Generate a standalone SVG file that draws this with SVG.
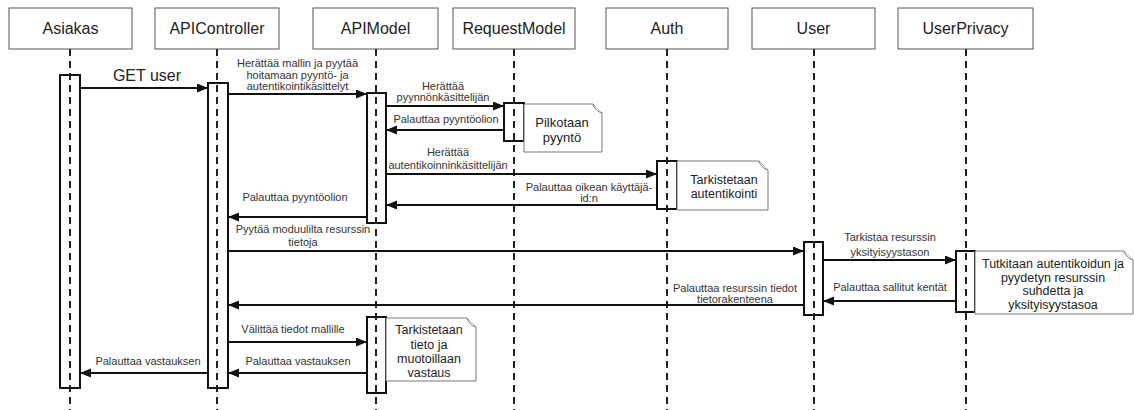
<svg xmlns="http://www.w3.org/2000/svg" width="1134" height="410" viewBox="0 0 1134 410">
<style>
.hd{fill:#fff;stroke:#555;stroke-width:1}
.ht{font-family:"Liberation Sans",Arial,sans-serif;font-size:16px;fill:#222;text-anchor:middle}
.ll{stroke:#222;stroke-width:2;stroke-dasharray:7 5;fill:none}
.act{fill:#fff;stroke:#111;stroke-width:2}
.note{fill:#fff;stroke:#777;stroke-width:1}
.nt{font-family:"Liberation Sans",Arial,sans-serif;font-size:12.5px;fill:#222;text-anchor:middle}
.nt13{font-size:13px}
.msg{stroke:#111;stroke-width:2;fill:none;marker-end:url(#arr)}
.mt{font-family:"Liberation Sans",Arial,sans-serif;font-size:11px;fill:#333;text-anchor:middle}
.big{font-size:16px;fill:#222}
</style>
<defs>
<marker id="arr" markerUnits="userSpaceOnUse" markerWidth="12" markerHeight="10" refX="11" refY="4.5" orient="auto">
<path d="M0,0 L11,4.5 L0,9 Z" fill="#111"/>
</marker>
</defs>
<rect width="1134" height="410" fill="#fff"/>

<g id="asiakas">
<rect class="hd" x="9" y="8" width="123" height="41"/>
<text class="ht" x="70.5" y="34">Asiakas</text>
<rect class="act" x="60" y="75" width="20" height="313"/>
<line class="ll" x1="70" y1="49" x2="70" y2="410"/>
</g>
<g id="apicontroller">
<rect class="hd" x="155" y="8" width="124" height="41"/>
<text class="ht" x="217" y="34">APIController</text>
<rect class="act" x="208" y="83" width="20" height="305"/>
<line class="ll" x1="217" y1="49" x2="217" y2="410"/>
</g>
<g id="apimodel">
<rect class="hd" x="313" y="8" width="125" height="41"/>
<text class="ht" x="375.5" y="34">APIModel</text>
<rect class="act" x="367" y="93" width="19" height="130"/>
<rect class="act" x="367" y="317" width="19" height="76"/>
<line class="ll" x1="376" y1="49" x2="376" y2="410"/>
</g>
<g id="requestmodel">
<rect class="hd" x="453" y="8" width="122" height="41"/>
<text class="ht" x="514" y="34">RequestModel</text>
<rect class="act" x="504" y="103" width="20" height="38"/>
<line class="ll" x1="514" y1="49" x2="514" y2="410"/>
</g>
<g id="auth">
<rect class="hd" x="606" y="8" width="122" height="41"/>
<text class="ht" x="667" y="34">Auth</text>
<rect class="act" x="657" y="161" width="20" height="48"/>
<line class="ll" x1="667" y1="49" x2="667" y2="410"/>
</g>
<g id="user">
<rect class="hd" x="752" y="8" width="123" height="41"/>
<text class="ht" x="813.5" y="34">User</text>
<rect class="act" x="804" y="242" width="19" height="73"/>
<line class="ll" x1="814" y1="49" x2="814" y2="410"/>
</g>
<g id="userprivacy">
<rect class="hd" x="898" y="8" width="135" height="41"/>
<text class="ht" x="965.5" y="34">UserPrivacy</text>
<rect class="act" x="956" y="251" width="19" height="61"/>
<line class="ll" x1="966" y1="49" x2="966" y2="410"/>
</g>

<g id="note-pilkotaan">
<path class="note" d="M524,104 H593 L602,113 V152 H524 Z"/>
<path class="note" d="M593,104 Q595,111 602,113" fill="none"/>
<text class="nt nt13" x="562" y="127">Pilkotaan</text>
<text class="nt nt13" x="562" y="142">pyyntö</text>
</g>
<g id="note-auth">
<path class="note" d="M677,161 H759 L768,170 V210 H677 Z"/>
<path class="note" d="M759,161 Q761,168 768,170" fill="none"/>
<text class="nt" x="724" y="183.5">Tarkistetaan</text>
<text class="nt" x="724" y="197.5">autentikointi</text>
</g>
<g id="note-privacy">
<path class="note" d="M975,251 H1124 L1133,260 V314 H975 Z"/>
<path class="note" d="M1124,251 Q1126,258 1133,260" fill="none"/>
<text class="nt" x="1053" y="267.5">Tutkitaan autentikoidun ja</text>
<text class="nt" x="1053" y="281.5">pyydetyn resurssin</text>
<text class="nt" x="1053" y="295">suhdetta ja</text>
<text class="nt" x="1053" y="309">yksityisyystasoa</text>
</g>
<g id="note-vastaus">
<path class="note" d="M386,318 H467 L476,327 V381 H386 Z"/>
<path class="note" d="M467,318 Q469,325 476,327" fill="none"/>
<text class="nt" x="429" y="333.5">Tarkistetaan</text>
<text class="nt" x="429" y="348.5">tieto ja</text>
<text class="nt" x="429" y="362.5">muotoillaan</text>
<text class="nt" x="429" y="376.5">vastaus</text>
</g>

<g id="connectors">
<line class="msg" x1="80" y1="88" x2="208" y2="88"/>
<text class="mt big" x="147" y="81">GET user</text>

<line class="msg" x1="228" y1="94" x2="367" y2="94"/>
<text class="mt" x="297.5" y="67">Herättää mallin ja pyytää</text>
<text class="mt" x="297.5" y="79">hoitamaan pyyntö- ja</text>
<text class="mt" x="297.5" y="90">autentikointikäsittelyt</text>

<line class="msg" x1="386" y1="106" x2="504" y2="106"/>
<text class="mt" x="443" y="90">Herättää</text>
<text class="mt" x="443" y="101">pyynnönkäsittelijän</text>

<line class="msg" x1="504" y1="130" x2="386" y2="130"/>
<text class="mt" x="446" y="123">Palauttaa pyyntöolion</text>

<line class="msg" x1="386" y1="174" x2="657" y2="174"/>
<text class="mt" x="448" y="156">Herättää</text>
<text class="mt" x="448" y="169">autentikoinninkäsittelijän</text>

<line class="msg" x1="657" y1="205" x2="386" y2="205"/>
<text class="mt" x="589" y="191">Palauttaa oikean käyttäjä-</text>
<text class="mt" x="589" y="202">id:n</text>

<line class="msg" x1="367" y1="217" x2="228" y2="217"/>
<text class="mt" x="295" y="201">Palauttaa pyyntöolion</text>

<line class="msg" x1="228" y1="251" x2="804" y2="251"/>
<text class="mt" x="303" y="233">Pyytää moduulilta resurssin</text>
<text class="mt" x="303" y="246">tietoja</text>

<line class="msg" x1="823" y1="260" x2="956" y2="260"/>
<text class="mt" x="890" y="241">Tarkistaa resurssin</text>
<text class="mt" x="890" y="256">yksityisyystason</text>

<line class="msg" x1="956" y1="301" x2="823" y2="301"/>
<text class="mt" x="890" y="291">Palauttaa sallitut kentät</text>

<line class="msg" x1="804" y1="305" x2="228" y2="305"/>
<text class="mt" x="735" y="292">Palauttaa resurssin tiedot</text>
<text class="mt" x="735" y="303">tietorakenteena</text>

<line class="msg" x1="228" y1="342" x2="367" y2="342"/>
<text class="mt" x="293" y="333">Välittää tiedot mallille</text>

<line class="msg" x1="367" y1="373" x2="228" y2="373"/>
<text class="mt" x="298" y="365">Palauttaa vastauksen</text>

<line class="msg" x1="208" y1="373" x2="80" y2="373"/>
<text class="mt" x="148" y="365">Palauttaa vastauksen</text>
</g>
</svg>
